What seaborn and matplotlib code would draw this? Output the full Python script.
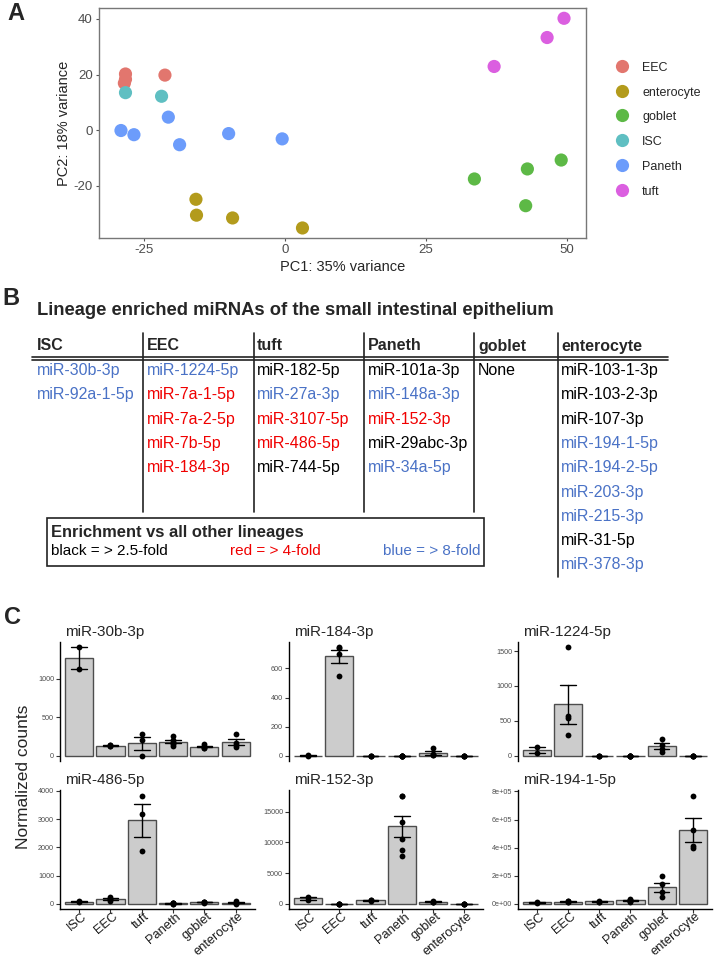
import numpy as np
import pandas as pd
import seaborn as sns
import matplotlib
matplotlib.use('Agg')
from matplotlib import pyplot as plt
from matplotlib.lines import Line2D
from matplotlib.patches import Rectangle
from matplotlib.transforms import ScaledTranslation

#%% data - panel A (PCA)
pca_cell = ['EEC'] * 4 + ['ISC'] * 2 + ['Paneth'] * 6 + ['enterocyte'] * 4 + ['tuft'] * 3 + ['goblet'] * 4
pc1 = [-28.3, -28.3, -28.5, -21.3,
       -28.3, -21.9,
       -29.1, -26.8, -20.7, -18.7, -10.0, -0.5,
       -15.8, -15.7, -9.3, 3.1,
       49.5, 46.5, 37.1,
       49.0, 43.0, 33.6, 42.7]
pc2 = [20.2, 18.3, 16.9, 19.8,
       13.5, 12.2,
       -0.1, -1.6, 4.7, -5.2, -1.2, -3.1,
       -24.8, -30.5, -31.5, -35.1,
       40.2, 33.3, 22.9,
       -10.7, -13.9, -17.5, -27.1]
hue_order = ['EEC', 'enterocyte', 'goblet', 'ISC', 'Paneth', 'tuft']
hue_colors = ['#E2766E', '#B39B1C', '#5DB946', '#5FBFC2', '#6C9CFB', '#DB5FE0']

#%% data - panel B (table)
table_cols = ['ISC', 'EEC', 'tuft', 'Paneth', 'goblet', 'enterocyte']
table_mirs = {
    'ISC': ['miR-30b-3p', 'miR-92a-1-5p'],
    'EEC': ['miR-1224-5p', 'miR-7a-1-5p', 'miR-7a-2-5p', 'miR-7b-5p', 'miR-184-3p'],
    'tuft': ['miR-182-5p', 'miR-27a-3p', 'miR-3107-5p', 'miR-486-5p', 'miR-744-5p'],
    'Paneth': ['miR-101a-3p', 'miR-148a-3p', 'miR-152-3p', 'miR-29abc-3p', 'miR-34a-5p'],
    'goblet': ['None'],
    'enterocyte': ['miR-103-1-3p', 'miR-103-2-3p', 'miR-107-3p', 'miR-194-1-5p', 'miR-194-2-5p',
                   'miR-203-3p', 'miR-215-3p', 'miR-31-5p', 'miR-378-3p'],
}
# k = black (>2.5x), r = red (>4x), b = blue (>8x)
table_fold = {
    'ISC': ['b', 'b'],
    'EEC': ['b', 'r', 'r', 'r', 'r'],
    'tuft': ['k', 'b', 'r', 'r', 'k'],
    'Paneth': ['k', 'b', 'r', 'k', 'b'],
    'goblet': ['k'],
    'enterocyte': ['k', 'k', 'k', 'b', 'b', 'b', 'b', 'k', 'b'],
}
fold_colors = {'k': 'black', 'r': '#F00000', 'b': '#4A72C6'}

#%% data - panel C (normalized counts)
cells = ['ISC', 'EEC', 'tuft', 'Paneth', 'goblet', 'enterocyte']
mir30b = {'ISC': [1404, 1120], 'EEC': [124, 131, 126, 135], 'tuft': [280, 207, 0],
          'Paneth': [250, 205, 180, 160, 150, 120], 'goblet': [145, 120, 105, 95],
          'enterocyte': [284, 160, 135, 110]}
mir184 = {'ISC': [1, 0], 'EEC': [745, 742, 698, 545], 'tuft': [0, 0, 0],
          'Paneth': [0, 0, 0, 0, 0, 0], 'goblet': [55, 10, 5, 2], 'enterocyte': [0, 0, 0, 0]}
mir1224 = {'ISC': [129, 33], 'EEC': [1552, 562, 543, 295], 'tuft': [0, 0, 0],
           'Paneth': [0, 0, 0, 0, 0, 0], 'goblet': [245, 150, 90, 50], 'enterocyte': [0, 0, 0, 0]}
mir486 = {'ISC': [95, 75], 'EEC': [240, 190, 160, 115], 'tuft': [3824, 3176, 1859],
          'Paneth': [25, 15, 20, 10, 30, 18], 'goblet': [75, 60, 55, 50], 'enterocyte': [90, 40, 20, 15]}
mir152 = {'ISC': [1200, 600], 'EEC': [60, 40, 50, 30], 'tuft': [650, 550, 580],
          'Paneth': [17600, 17500, 13400, 10600, 8700, 7800], 'goblet': [550, 400, 300, 250],
          'enterocyte': [60, 40, 30, 50]}
mir194 = {'ISC': [12000, 10000], 'EEC': [22000, 15000, 18000, 13000], 'tuft': [22000, 15000, 17000],
          'Paneth': [38000, 30000, 25000, 20000, 16000, 22000], 'goblet': [197600, 141000, 87000, 47000],
          'enterocyte': [770000, 528000, 410000, 398000]}
panel_titles = ['miR-30b-3p', 'miR-184-3p', 'miR-1224-5p', 'miR-486-5p', 'miR-152-3p', 'miR-194-1-5p']
panel_data = [mir30b, mir184, mir1224, mir486, mir152, mir194]
panel_ticks = [[0, 500, 1000], [0, 200, 400, 600], [0, 500, 1000, 1500],
               [0, 1000, 2000, 3000, 4000], [0, 5000, 10000, 15000], [0, 2e5, 4e5, 6e5, 8e5]]
panel_ticklabels = [['0', '500', '1000'], ['0', '200', '400', '600'], ['0', '500', '1000', '1500'],
                    ['0', '1000', '2000', '3000', '4000'], ['0', '5000', '10000', '15000'],
                    ['0e+00', '2e+05', '4e+05', '6e+05', '8e+05']]

#%% figure setup
W, H = 714, 959
sns.set_style('white')
plt.rcParams['font.family'] = ['Liberation Sans', 'DejaVu Sans']
plt.rcParams['axes.unicode_minus'] = False
fig = plt.figure(figsize=(W / 100, H / 100), dpi=100)


def box(x0, y0, x1, y1):
    return [x0 / W, 1 - y1 / H, (x1 - x0) / W, (y1 - y0) / H]


def ftext(x, y, s, **kw):
    kw.setdefault('va', 'center')
    fig.text(x / W, 1 - y / H, s, **kw)


def fline(xs, ys, **kw):
    fig.add_artist(Line2D([x / W for x in xs], [1 - y / H for y in ys],
                          transform=fig.transFigure, **kw))


#%% panel A
pca = pd.DataFrame({'PC1': pc1, 'PC2': pc2, 'cell': pca_cell})
ax = fig.add_axes(box(99, 8, 586, 238))
sns.scatterplot(data=pca, x='PC1', y='PC2', hue='cell', hue_order=hue_order,
                palette=dict(zip(hue_order, hue_colors)), s=90, edgecolor='none',
                legend=False, ax=ax)
ax.set_xlim(-33.0, 53.4)
ax.set_ylim(-38.7, 43.9)
ax.set_xticks([-25, 0, 25, 50])
ax.set_yticks([-20, 0, 20, 40])
for sp in ax.spines.values():
    sp.set_color('#777777')
    sp.set_linewidth(1)
ax.tick_params(axis='both', direction='out', length=2.5, width=0.8, color='#555555',
               labelsize=9.5, labelcolor='#4D4D4D', left=True, bottom=True, pad=2)
ax.set_xlabel('PC1: 35% variance', fontsize=10.5, labelpad=3)
ax.set_ylabel('PC2: 18% variance', fontsize=10.5, labelpad=2)
handles = [Line2D([], [], marker='o', ls='', color=c, markersize=9.5, markeredgewidth=0)
           for c in hue_colors]
ax.legend(handles, hue_order, loc='upper left', bbox_to_anchor=(616 / W, 1 - 61 / H),
          bbox_transform=fig.transFigure, frameon=False, fontsize=9, handlelength=1,
          handleheight=1, handletextpad=1.1, labelspacing=0.95, borderpad=0, borderaxespad=0)
ftext(7, 13, 'A', fontsize=17, fontweight='bold')

#%% panel B
ftext(2, 298, 'B', fontsize=17, fontweight='bold')
ftext(37, 311, 'Lineage enriched miRNAs of the small intestinal epithelium',
      fontsize=13.2, fontweight='bold')
col_x = [37, 147, 257, 367.5, 478, 561]
sep_x = [143.3, 254, 364, 474.3, 557.7]
row_y = [370.7 + 24.27 * i for i in range(9)]
for cx, name in zip(col_x, table_cols):
    ftext(cx, 346, name, fontsize=11.5, fontweight='bold')
    for ry, mir, f in zip(row_y, table_mirs[name], table_fold[name]):
        ftext(cx, ry, mir, fontsize=11.5, color=fold_colors[f])
for sx in sep_x[:-1]:
    fline([sx, sx], [333, 512], color='#222222', lw=1.2)
fline([sep_x[-1]] * 2, [333, 577], color='#222222', lw=1.2)
fline([32, 668], [357.3, 357.3], color='#222222', lw=1.2)
fline([32, 668], [360, 360], color='#222222', lw=1.2)
fig.add_artist(Rectangle((46.7 / W, 1 - 565.7 / H), (484.3 - 46.7) / W, (565.7 - 518.3) / H,
                         transform=fig.transFigure, fill=False, ec='#222222', lw=1.2))
ftext(50.7, 532, 'Enrichment vs all other lineages', fontsize=11.9, fontweight='bold')
ftext(50.7, 551, 'black = > 2.5-fold', fontsize=11, color='black')
ftext(230, 551, 'red = > 4-fold', fontsize=11, color=fold_colors['r'])
ftext(480.5, 551, 'blue = > 8-fold', fontsize=11, color=fold_colors['b'], ha='right')

#%% panel C
ftext(4, 617, 'C', fontsize=17, fontweight='bold')
ftext(24, 777, 'Normalized counts', fontsize=12.5, rotation=90, ha='center')
col_px = [(60.3, 254.5), (289.3, 483), (518.3, 711.5)]
row_px = [(642, 761), (790.3, 909.4)]
title_y = [631.7, 780]
shift = ScaledTranslation(0.06, 0, fig.dpi_scale_trans)

for i, (title, vals) in enumerate(zip(panel_titles, panel_data)):
    r, c = divmod(i, 3)
    x0, x1 = col_px[c]
    y0, y1 = row_px[r]
    ax = fig.add_axes(box(x0, y0, x1, y1))
    df = pd.DataFrame({'cell': np.repeat(cells, [len(vals[k]) for k in cells]),
                       'count': np.concatenate([vals[k] for k in cells])})
    sns.barplot(data=df, x='cell', y='count', order=cells, color='#CCCCCC', saturation=1,
                edgecolor='#4D4D4D', linewidth=1, width=0.9, errorbar='se', capsize=0.5,
                err_kws={'color': 'black', 'linewidth': 1}, ax=ax)
    sns.stripplot(data=df, x='cell', y='count', order=cells, color='black', size=4.2,
                  jitter=False, ax=ax)
    stats = df.groupby('cell')['count'].agg(['mean', 'sem'])
    hi = max(df['count'].max(), (stats['mean'] + stats['sem']).max())
    ax.set_ylim(-0.05 * hi, 1.05 * hi)
    ax.set_xlim(-0.6, 5.6)
    ax.set_yticks(panel_ticks[i])
    ax.set_yticklabels(panel_ticklabels[i])
    ax.set_xlabel('')
    ax.set_ylabel('')
    sns.despine(ax=ax)
    ax.spines['left'].set_color('black')
    ax.spines['left'].set_linewidth(1)
    ax.tick_params(axis='y', direction='out', length=3, width=0.8, color='#333333',
                   labelsize=5.2, labelcolor='#4D4D4D', left=True, pad=1.5)
    if r == 0:
        ax.spines['bottom'].set_visible(False)
        ax.set_xticks([])
    else:
        ax.spines['bottom'].set_color('black')
        ax.spines['bottom'].set_linewidth(1)
        ax.tick_params(axis='x', direction='out', length=3, width=0.8, color='#333333',
                       labelsize=9.3, labelcolor='#1A1A1A', bottom=True, pad=1.2)
        for lab in ax.get_xticklabels():
            lab.set_rotation(40)
            lab.set_ha('right')
            lab.set_va('center')
            lab.set_rotation_mode('anchor')
            lab.set_transform(lab.get_transform() + shift)
    ftext(x0 + 4.5, title_y[r], title, fontsize=11)

fig.savefig('out.png', dpi=100)
